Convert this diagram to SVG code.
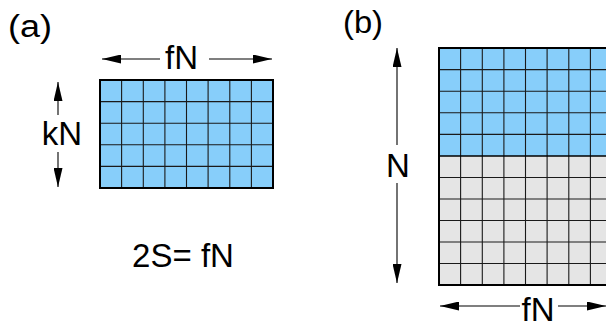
<svg xmlns="http://www.w3.org/2000/svg" width="606" height="325" viewBox="0 0 606 325">
<style>
text{font-family:"Liberation Sans",Arial,sans-serif;fill:#000}
.lbl{font-size:31px}
.big{font-size:33px}
.blue{fill:#87CEFA}
.gray{fill:#E5E5E5}
.grid{fill:none;stroke:#1a1a1a;stroke-width:1.1}
.border{fill:none;stroke:#000;stroke-width:2}
.arr{stroke:#000;stroke-width:1.1;fill:none;marker-end:url(#ah)}
</style>
<defs>
<marker id="ah" markerUnits="userSpaceOnUse" markerWidth="19" markerHeight="9" refX="19" refY="4.5" orient="auto" viewBox="0 0 19 9">
<path d="M0,0 L19,4.5 L0,9 Z" fill="#000"/>
</marker>
</defs>
<rect width="606" height="325" fill="#fff"/>
<g id="label-a"><text class="lbl" x="8" y="37" textLength="44" lengthAdjust="spacingAndGlyphs">(a)</text></g>
<g id="grid-a">
<rect class="blue" x="100" y="80" width="173" height="108"/>
<path class="grid" d="M121.6,80V188M143.3,80V188M164.9,80V188M186.5,80V188M208.1,80V188M229.8,80V188M251.4,80V188M100,101.6H273M100,123.2H273M100,144.8H273M100,166.4H273"/>
<rect class="border" x="100" y="80" width="173" height="108"/>
</g>
<g id="label-fN-a"><text class="big" x="181.5" y="69" text-anchor="middle">fN</text></g>
<g id="label-kN"><text class="big" x="62" y="145" text-anchor="middle">kN</text></g>
<g id="eq"><text class="big" x="183" y="267" text-anchor="middle">2S= fN</text></g>
<g id="label-b"><text class="lbl" x="343" y="33" textLength="40" lengthAdjust="spacingAndGlyphs">(b)</text></g>
<g id="grid-b">
<rect class="blue" x="439" y="48" width="173" height="108"/>
<rect class="gray" x="439" y="156" width="173" height="129"/>
<path class="grid" d="M460.6,48V285M482.3,48V285M503.9,48V285M525.5,48V285M547.1,48V285M568.8,48V285M590.4,48V285M439,69.6H612M439,91.2H612M439,112.8H612M439,134.4H612M439,177.5H612M439,199H612M439,220.5H612M439,242H612M439,263.5H612"/>
<path d="M439,156H612" stroke="#000" stroke-width="1.6"/>
<rect class="border" x="439" y="48" width="180" height="237"/>
</g>
<g id="label-N"><text class="big" x="398" y="177" text-anchor="middle">N</text></g>
<g id="label-fN-b"><text class="big" x="538" y="321" text-anchor="middle">fN</text></g>
<g id="connectors">
<path class="arr" d="M160,59H102"/>
<path class="arr" d="M209,59H272"/>
<path class="arr" d="M58,115V82"/>
<path class="arr" d="M58,152V187"/>
<path class="arr" d="M397,145V48"/>
<path class="arr" d="M397,183V283"/>
<path class="arr" d="M520,306H440"/>
<path class="arr" d="M558,306H606"/>
</g>
</svg>
